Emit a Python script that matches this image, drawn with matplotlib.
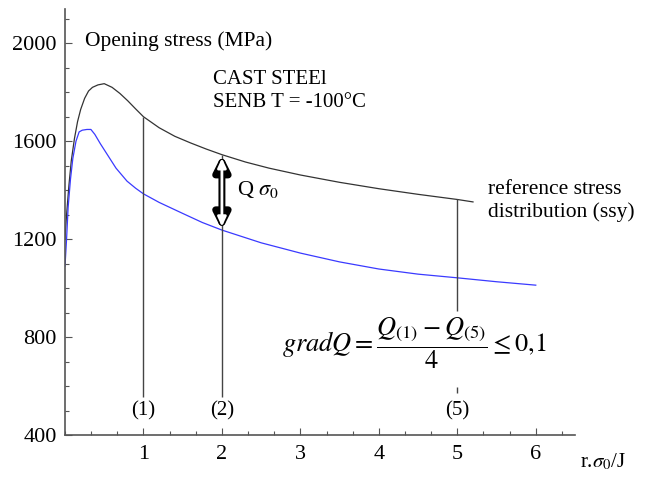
import numpy as np
import matplotlib.pyplot as plt
from matplotlib.ticker import MultipleLocator

plt.rcParams['font.family'] = 'Liberation Serif'
plt.rcParams['mathtext.fontset'] = 'stix'

# opening stress vs normalised distance r.sigma0/J
ssy_x = [0.0, 0.02, 0.05, 0.08, 0.12, 0.16, 0.2, 0.25, 0.3, 0.35, 0.42, 0.5, 0.6, 0.7, 0.8, 0.9,
         1.0, 1.2, 1.4, 1.6, 1.8, 2.0, 2.3, 2.6, 3.0, 3.5, 4.0, 4.5, 5.0, 5.2]
ssy_y = [1200, 1300, 1420, 1520, 1610, 1680, 1730, 1775, 1805, 1820, 1830, 1835, 1820, 1795, 1765, 1732,
         1700, 1655, 1620, 1593, 1568, 1545, 1515, 1490, 1462, 1432, 1406, 1383, 1362, 1352]

senb_x = [0.0, 0.02, 0.04, 0.07, 0.1, 0.14, 0.18, 0.22, 0.28, 0.33, 0.38, 0.45, 0.55, 0.65, 0.79, 0.9,
          1.0, 1.2, 1.5, 1.75, 2.0, 2.5, 3.0, 3.5, 4.0, 4.5, 5.0, 5.5, 6.0]
senb_y = [1090, 1200, 1330, 1445, 1530, 1600, 1638, 1645, 1648, 1648, 1628, 1590, 1540, 1490, 1437, 1408,
          1385, 1350, 1305, 1268, 1237, 1185, 1143, 1107, 1078, 1057, 1042, 1026, 1012]

marks = [1, 2, 5]
mark_labels = ['(1)', '(2)', '(5)']

fig = plt.figure(figsize=(6.51, 5.0), dpi=100)
ax = fig.add_axes([65 / 651, 65 / 500, 510 / 651, 426 / 500])

ax.plot(ssy_x, ssy_y, color='#333333', lw=0.9)
ax.plot(senb_x, senb_y, color='#3a3aff', lw=0.9)

# vertical markers from the reference curve down to the labels
for m, lab in zip(marks, mark_labels):
    top = np.interp(m, ssy_x, ssy_y)
    if m == 5:
        ax.vlines(m, 905, top, color='#444444', lw=1)
        ax.vlines(m, 570, 595, color='#444444', lw=1)
    else:
        ax.vlines(m, 555, top, color='#444444', lw=1)
    ax.text(m, 500, lab, ha='center', va='center', fontsize=15)

# Q sigma0 hollow double arrow at x=2
y_top = np.interp(2, ssy_x, ssy_y)
y_bot = np.interp(2, senb_x, senb_y)
ax.annotate('', xy=(2, y_top), xytext=(2, y_bot),
            arrowprops=dict(arrowstyle='<|-|>,head_length=0.9,head_width=0.45',
                            color='black', lw=5, shrinkA=0, shrinkB=0))
ax.annotate('', xy=(2, y_top - 14), xytext=(2, y_bot + 14),
            arrowprops=dict(arrowstyle='<|-|>,head_length=0.55,head_width=0.25',
                            color='white', lw=2, shrinkA=0, shrinkB=0))
ax.text(2.19, 1404, r'Q $\sigma_0$', fontsize=16, va='center')

ax.text(0.25, 2010, 'Opening stress (MPa)', fontsize=15.5, va='center')
ax.text(1.89, 1853, 'CAST STEEl', fontsize=15, va='center')
ax.text(1.89, 1760, 'SENB T = -100°C', fontsize=15, va='center')
ax.text(5.39, 1404, 'reference stress', fontsize=15.5, va='center')
ax.text(5.39, 1310, 'distribution (ssy)', fontsize=15.5, va='center')

ax.text(4.46, 775, r'$gradQ = \dfrac{Q_{(1)} - Q_{(5)}}{4} \leq 0{,}1$',
        fontsize=19, ha='center', va='center')

ax.set_xlim(0, 6.5)
ax.set_ylim(400, 2140)
ax.set_xticks([1, 2, 3, 4, 5, 6])
ax.set_yticks([400, 800, 1200, 1600, 2000])
ax.xaxis.set_minor_locator(MultipleLocator(1 / 3))
ax.yaxis.set_minor_locator(MultipleLocator(100))
ax.tick_params(which='both', direction='in', color='#555555', labelsize=16)
ax.tick_params(which='major', length=5, width=0.8)
ax.tick_params(which='minor', length=3, width=0.8)
ax.tick_params(axis='x', pad=7)
ax.tick_params(axis='y', pad=6)
for s in ['top', 'right']:
    ax.spines[s].set_visible(False)
for s in ['left', 'bottom']:
    ax.spines[s].set_color('#555555')
    ax.spines[s].set_linewidth(1.2)

fig.text(580 / 651, 1 - 462 / 500, r'r.$\sigma_0$/J', fontsize=15, va='center')

fig.savefig('out.png', dpi=100)
